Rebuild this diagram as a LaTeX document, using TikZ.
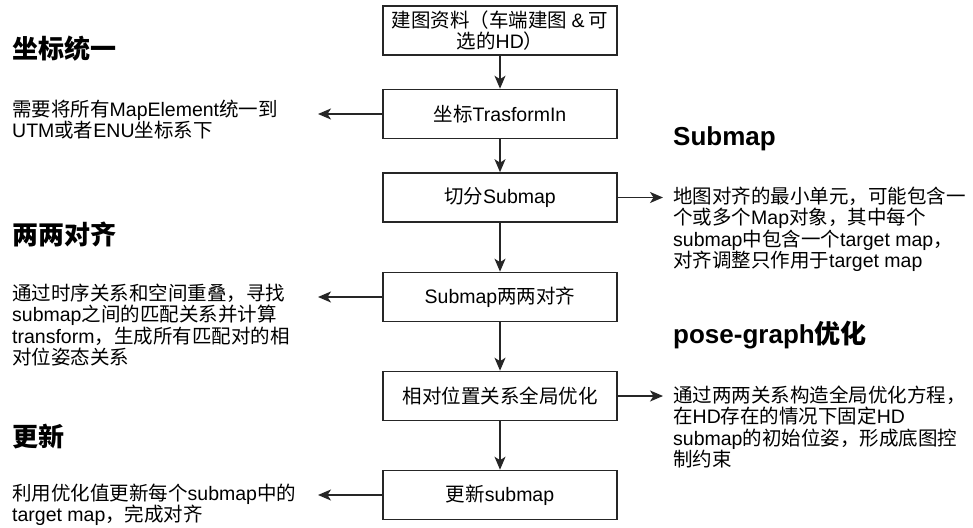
\documentclass[tikz,border=0pt]{standalone}
\usepackage{fontspec}
\setmainfont{Noto Sans CJK SC}
\newfontfamily\latfont{Liberation Sans}
\newcommand\lat[1]{{\latfont #1}}
\newcommand\mylines[1]{\vtop{\baselineskip=21.3pt\lineskiplimit=-100pt\lineskip=0pt #1}}
\usetikzlibrary{arrows.meta}
\tikzset{
  stepbox/.style={draw=black!85, line width=1.6pt, minimum width=234pt, minimum height=49pt,
    inner sep=0pt, align=center, font=\fontsize{19.5}{21.5}\selectfont},
  desc/.style={anchor=base west, inner sep=0pt, font=\fontsize{19.5}{21.3}\selectfont},
  heading/.style={anchor=base west, inner sep=0pt, font=\fontsize{26}{30}\selectfont\bfseries},
  flow/.style={draw=black!85, line width=1.4pt, -{Stealth[length=13pt,width=11pt,inset=3.5pt]}}
}
\begin{document}
\begin{tikzpicture}[x=1pt,y=-1pt]
\path[use as bounding box, fill=white] (0,0) rectangle (973,527);
% boxes
\node[stepbox] (b1) at (500,30.5) {建图资料（车端建图 \lat{\&} 可\\选的\lat{HD}）};
\node[stepbox] (b2) at (500,114) {坐标\lat{TrasformIn}};
\node[stepbox] (b3) at (500,197.5) {切分\lat{Submap}};
\node[stepbox] (b4) at (500,297) {\lat{Submap}两两对齐};
\node[stepbox] (b5) at (500,396) {相对位置关系全局优化};
\node[stepbox] (b6) at (500,495) {更新\lat{submap}};
% headings
\node[heading] (h1) at (12,59) {坐标统一};
\node[heading] (h2) at (12,244.5) {两两对齐};
\node[heading] (h3) at (12,446) {更新};
\node[heading] (h4) at (673,145) {\lat{Submap}};
\node[heading] (h5) at (673,343) {\lat{pose-graph}优化};
% descriptions
\node[desc] (d1) at (12,116.5) {\mylines{\hbox{需要将所有\lat{MapElement}统一到}\hbox{\lat{UTM}或者\lat{ENU}坐标系下}}};
\node[desc] (d2) at (12,300.5) {\mylines{\hbox{通过时序关系和空间重叠，寻找}\hbox{\lat{submap}之间的匹配关系并计算}\hbox{\lat{transform}，生成所有匹配对的相}\hbox{对位姿态关系}}};
\node[desc] (d3) at (12,500.5) {\mylines{\hbox{利用优化值更新每个\lat{submap}中的}\hbox{\lat{target map}，完成对齐}}};
\node[desc] (d4) at (673,203.5) {\mylines{\hbox{地图对齐的最小单元，可能包含一}\hbox{个或多个\lat{Map}对象，其中每个}\hbox{\lat{submap}中包含一个\lat{target map}，}\hbox{对齐调整只作用于\lat{target map}}}};
\node[desc] (d5) at (673,402.5) {\mylines{\hbox{通过两两关系构造全局优化方程，}\hbox{在\lat{HD}存在的情况下固定\lat{HD}}\hbox{\lat{submap}的初始位姿，形成底图控}\hbox{制约束}}};
% arrow ends
\coordinate (e2) at (318,114);
\coordinate (e3) at (663,197.5);
\coordinate (e4) at (318,297);
\coordinate (e5) at (663,396);
\coordinate (e6) at (318,495);
% vertical flow
\draw[flow] (b1) -- (b2);
\draw[flow] (b2) -- (b3);
\draw[flow] (b3) -- (b4);
\draw[flow] (b4) -- (b5);
\draw[flow] (b5) -- (b6);
% side arrows
\draw[flow] (b2.west) -- (e2);
\draw[flow] (b3.east) -- (e3);
\draw[flow] (b4.west) -- (e4);
\draw[flow] (b5.east) -- (e5);
\draw[flow] (b6.west) -- (e6);
\end{tikzpicture}
\end{document}
